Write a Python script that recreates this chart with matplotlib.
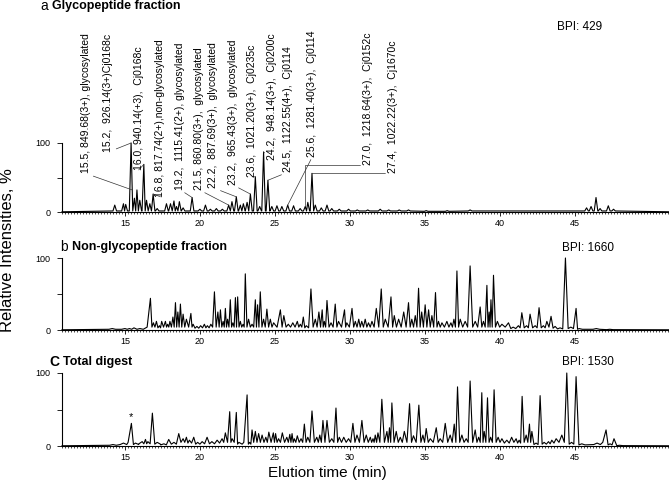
import matplotlib.pyplot as plt
from matplotlib.ticker import MultipleLocator, FixedLocator

plt.rcParams['font.family'] = ['Liberation Sans', 'DejaVu Sans']

# ---- a: glycopeptide fraction, peaks (time, % intensity) ----
a_time = [14.32, 14.9, 15.05, 15.41, 15.63, 15.8, 15.99, 16.26, 16.44, 16.66,
          16.88, 17.15, 17.77, 18.04, 18.27, 18.44, 18.63, 18.88, 19.48, 20.0,
          20.37, 20.7, 21.1, 21.5, 21.92, 22.14, 22.43, 22.7, 22.9, 23.15,
          23.37, 23.7, 23.99, 24.25, 24.54, 24.8, 25.14, 25.47, 25.86, 26.25,
          26.69, 27.03, 27.2, 27.48, 27.7, 28.1, 28.48, 28.8, 29.3, 29.92,
          30.5, 31.2, 32.03, 32.6, 33.3, 33.92, 35.1, 36.5, 38.03, 45.8,
          46.1, 46.43, 46.7, 47.25, 47.6]
a_int = [10, 12, 11, 100, 20, 32, 17, 69, 17, 12,
         26, 5, 12, 12, 16, 8, 15, 6, 21, 4,
         10, 4, 5, 4, 10, 15, 22, 10, 12, 14,
         26, 51, 8, 87, 46, 8, 9, 8, 10, 9,
         5, 8, 14, 56, 10, 6, 10, 5, 4, 4,
         3, 3, 4, 3, 3, 3, 2, 2, 3, 6,
         8, 21, 5, 9, 4]

# ---- b: non-glycopeptide fraction ----
b_time = [14.15, 15.0, 15.3, 15.6, 16.0, 16.7, 16.9, 17.1, 17.3, 17.45,
          17.7, 17.85, 18.0, 18.2, 18.37, 18.53, 18.7, 18.88, 19.1, 19.4,
          19.55, 19.8, 20.05, 20.3, 20.5, 20.73, 20.97, 21.2, 21.37, 21.55,
          21.7, 21.85, 22.03, 22.2, 22.37, 22.52, 22.7, 22.88, 23.03, 23.25,
          23.48, 23.7, 23.85, 24.03, 24.25, 24.47, 24.7, 24.92, 25.37, 25.6,
          25.9, 26.2, 26.5, 26.7, 26.9, 27.1, 27.41, 27.7, 27.94, 28.16,
          28.3, 28.48, 28.75, 29.03, 29.25, 29.65, 29.8, 30.15, 30.37, 30.6,
          30.8, 31.03, 31.25, 31.48, 31.77, 32.1, 32.37, 32.75, 32.97, 33.26,
          33.6, 33.92, 34.14, 34.37, 34.59, 34.8, 35.03, 35.26, 35.48, 35.72,
          35.92, 36.15, 36.48, 36.75, 36.95, 37.15, 37.37, 37.7, 38.03, 38.37,
          38.7, 38.92, 39.15, 39.3, 39.42, 39.59, 39.85, 40.15, 40.59, 40.9,
          41.25, 41.48, 41.8, 42.03, 42.37, 42.63, 42.92, 43.15, 43.43, 43.7,
          44.03, 44.39, 44.75, 45.1, 45.3, 46.45, 47.35]
b_int = [2, 2, 2, 3, 2, 44, 10, 12, 6, 12,
         12, 8, 12, 18, 38, 25, 36, 22, 15, 23,
         8, 5, 6, 8, 6, 8, 53, 25, 28, 12,
         30, 15, 42, 10, 45, 46, 12, 8, 78, 15,
         8, 42, 35, 53, 15, 29, 15, 10, 28, 20,
         8, 10, 12, 8, 18, 6, 57, 15, 25, 28,
         12, 41, 10, 36, 12, 28, 10, 30, 12, 15,
         12, 15, 10, 12, 30, 57, 15, 46, 20, 15,
         25, 38, 15, 20, 58, 25, 35, 28, 20, 52,
         12, 10, 12, 10, 15, 82, 15, 12, 89, 12,
         32, 12, 62, 25, 42, 76, 12, 8, 10, 4,
         6, 24, 6, 22, 6, 31, 6, 12, 19, 5,
         3, 100, 4, 30, 2, 2, 1]

# ---- c: total digest ----
c_time = [14.2, 14.9, 15.43, 15.7, 16.15, 16.37, 16.53, 16.83, 17.15, 17.6,
          17.92, 18.27, 18.59, 18.88, 19.1, 19.3, 19.59, 19.85, 20.15, 20.48,
          20.8, 21.15, 21.48, 21.7, 21.99, 22.15, 22.43, 22.6, 23.15, 23.32,
          23.48, 23.7, 23.92, 24.15, 24.4, 24.6, 24.9, 25.05, 25.25, 25.5,
          25.8, 26.0, 26.15, 26.3, 26.5, 26.75, 26.97, 27.2, 27.48, 27.8,
          28.0, 28.21, 28.48, 28.8, 29.08, 29.3, 29.6, 29.92, 30.21, 30.48,
          30.81, 31.1, 31.37, 31.55, 31.7, 31.88, 32.14, 32.48, 32.65, 32.81,
          33.1, 33.37, 33.64, 33.99, 34.25, 34.61, 34.88, 35.1, 35.37, 35.77,
          36.03, 36.37, 36.7, 36.97, 37.19, 37.48, 37.77, 38.03, 38.37, 38.6,
          38.81, 38.97, 39.19, 39.4, 39.63, 39.9, 40.15, 40.48, 40.8, 41.1,
          41.3, 41.5, 41.77, 41.99, 42.15, 42.43, 42.7, 42.97, 43.26, 43.48,
          43.77, 44.15, 44.48, 44.8, 45.1, 45.48, 46.5, 47.1, 47.37, 47.63,
          48.0]
c_int = [2, 4, 31, 4, 6, 9, 6, 45, 5, 3,
         9, 5, 17, 10, 12, 8, 12, 5, 6, 12,
         6, 8, 10, 18, 47, 10, 46, 5, 70, 5,
         22, 20, 17, 15, 12, 19, 18, 17, 10, 18,
         12, 16, 17, 10, 14, 10, 30, 12, 48, 12,
         15, 35, 35, 10, 52, 12, 12, 10, 31, 15,
         35, 15, 12, 10, 15, 18, 64, 20, 25, 59,
         20, 12, 20, 58, 14, 56, 15, 24, 10, 25,
         10, 31, 15, 30, 81, 15, 10, 89, 22, 12,
         73, 20, 66, 12, 77, 12, 10, 8, 12, 10,
         8, 68, 15, 30, 20, 4, 69, 5, 6, 8,
         10, 15, 100, 5, 95, 3, 4, 22, 3, 10,
         1]

# annotated peaks of panel a
ann_labels = ["15.5, 849.68(3+), glycosylated",
              "15.2,  926.14(3+)Cj0168c",
              "16.0, 940.14(+3),  Cj0168c",
              "16.8, 817.74(2+),non-glycosylated",
              "19.2,  1115.41(2+), glycosylated",
              "21.5, 860.80(3+),  glycosylated",
              "22.2,  887.69(3+),  glycosylated",
              "23.2,  965.43(3+),  glycosylated",
              "23.6,  1021.20(3+),  Cj0235c",
              "24.2,  948.14(3+),  Cj0200c",
              "24.5,  1122.55(4+),  Cj0114",
              "25.6,  1281.40(3+),  Cj0114",
              "27.0,  1218.64(3+),  Cj0152c",
              "27.4,  1022.22(3+),  Cj1670c"]
ann_peak_t = [15.48, 15.41, 16.26, 16.88, 19.48, 21.92, 22.43, 23.37, 23.7,
              24.25, 24.54, 25.86, 27.03, 27.48]
ann_peak_y = [32, 100, 69, 26, 21, 10, 22, 26, 51, 87, 46, 10, 8, 56]
# label anchor (text bottom) in data units
ann_text_t = [12.37, 13.9, 15.92, 17.37, 18.7, 19.97, 20.9, 22.23, 23.5,
              24.83, 25.9, 27.5, 31.23, 32.9]
ann_text_y = [56, 87, 61, 22, 32, 32, 35, 39, 51, 75, 58, 80, 68, 56]

panels = [("a", "Glycopeptide fraction", "BPI: 429", a_time, a_int),
          ("b", "Non-glycopeptide fraction", "BPI: 1660", b_time, b_int),
          ("C", "Total digest", "BPI: 1530", c_time, c_int)]

XMIN, XMAX = 10.8, 51.3


def trace(times, heights, w, floor):
    # chromatogram line: each listed peak as a narrow spike
    xs, ys = [XMIN], [0.3]
    n = len(times)
    for i in range(n):
        t, h = times[i], heights[i]
        if i == 0 or t - times[i - 1] > 2 * w:
            xs.append(t - w)
            ys.append(min(floor, 0.5 * h))
        xs.append(t)
        ys.append(h)
        if i == n - 1 or times[i + 1] - t > 2 * w:
            xs.append(t + w)
            ys.append(min(floor, 0.5 * h))
        else:
            xs.append((t + times[i + 1]) / 2)
            ys.append(min(floor, 0.5 * min(h, heights[i + 1])))
    xs.append(XMAX)
    ys.append(0.3)
    return xs, ys


W, H = 669, 484
fig = plt.figure(figsize=(W / 100, H / 100), dpi=100)

boxes = [(143, 212), (258, 330), (373, 446)]
widths = [0.12, 0.22, 0.22]
floors = [1.5, 4, 5]
title_x = [40, 60, 49]
title_gap = [12, 12, 14]
title_y = [6, 247, 362]
bpi_x = [557, 562, 562]
bpi_y = [27, 248, 362]

axes = []
for k, (letter, title, bpi, tt, hh) in enumerate(panels):
    top, bot = boxes[k]
    ax = fig.add_axes([62 / W, 1 - bot / H, (W - 62) / W, (bot - top) / H])
    axes.append(ax)
    xs, ys = trace(tt, hh, widths[k], floors[k])
    ax.plot(xs, ys, color='black', lw=0.8, clip_on=False)
    ax.set_xlim(XMIN, XMAX)
    ax.set_ylim(0, 100)
    for s in ['top', 'right']:
        ax.spines[s].set_visible(False)
    for s in ['left', 'bottom']:
        ax.spines[s].set_linewidth(0.8)
    ax.xaxis.set_major_locator(FixedLocator([15, 20, 25, 30, 35, 40, 45]))
    ax.xaxis.set_minor_locator(MultipleLocator(0.2))
    ax.set_yticks([0, 50, 100])
    ax.set_yticklabels(['0', '', '100'])
    ax.tick_params(axis='x', which='major', length=3, width=0.6, labelsize=6.5, pad=2)
    ax.tick_params(axis='x', which='minor', length=1.5, width=0.5)
    ax.tick_params(axis='y', length=3.5, width=0.6, labelsize=6.5, pad=5)

    fig.text(title_x[k] / W, 1 - title_y[k] / H, letter, fontsize=10,
             va='center', weight='bold' if letter == 'C' else 'normal')
    fig.text((title_x[k] + title_gap[k]) / W, 1 - title_y[k] / H, title,
             fontsize=9, weight='bold', va='center')
    fig.text(bpi_x[k] / W, 1 - bpi_y[k] / H, bpi, fontsize=8.5, va='center')

ax_a, ax_b, ax_c = axes
for i, lab in enumerate(ann_labels):
    if i == 12:
        conn = "angle,angleA=0,angleB=90,rad=0"
        rp = (0, 0)
    else:
        conn = "arc3,rad=0"
        rp = (0.5, 0)
    ax_a.annotate(lab, xy=(ann_peak_t[i], ann_peak_y[i]),
                  xytext=(ann_text_t[i], ann_text_y[i]),
                  rotation=90, ha='center', va='bottom', fontsize=7.5,
                  annotation_clip=False,
                  arrowprops=dict(arrowstyle='-', lw=0.5, color='#333333',
                                  connectionstyle=conn, relpos=rp,
                                  shrinkA=0, shrinkB=0))

ax_c.text(15.43, 39, '*', ha='center', va='center', fontsize=8)

fig.text(8 / W, 1 - 250 / H, 'Relative Intensities, %', rotation=90,
         ha='center', va='center', fontsize=12)
fig.text(327 / W, 1 - 473 / H, 'Elution time (min)', ha='center', va='center',
         fontsize=11)

fig.savefig('out.png', dpi=100)
